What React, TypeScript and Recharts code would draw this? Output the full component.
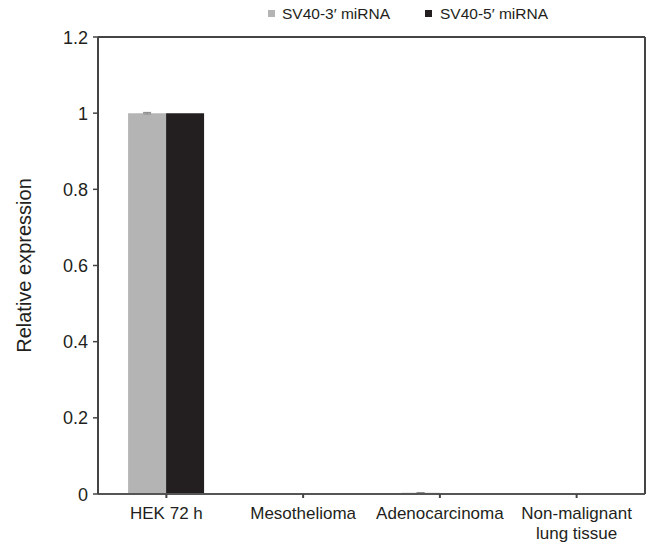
import React from 'react';
import { BarChart, Bar, XAxis, YAxis, CartesianGrid, ErrorBar, ReferenceLine } from 'recharts';

const categories = ['HEK 72 h', 'Mesothelioma', 'Adenocarcinoma', 'Non-malignant\nlung tissue'];
const sv40_3 = [1.0, 0.002, 0.003, 0.002];
const sv40_5 = [1.0, 0.0005, 0.001, 0.0005];
const err3 = [0.002, 0, 0.001, 0];
const yTicks = [0, 0.2, 0.4, 0.6, 0.8, 1, 1.2];
const seriesNames = ['SV40-3\u2032 miRNA', 'SV40-5\u2032 miRNA'];

const data = categories.map((c, i) => ({
  name: c,
  s3: sv40_3[i],
  s5: sv40_5[i],
  e3: err3[i],
}));

const FONT = '"Liberation Sans", Arial, Helvetica, sans-serif';
const GRAY = '#b4b4b5';
const BLACK = '#231f20';

const XTick = (props: any) => {
  const { x, y, payload } = props;
  const lines = String(payload.value).split('\n');
  return (
    <g transform={`translate(${x},${y})`}>
      {lines.map((l: string, i: number) => (
        <text key={i} x={0} y={0} dy={19 + i * 20} textAnchor="middle" fontSize={17} fill="#231f20" fontFamily={FONT}>
          {l}
        </text>
      ))}
    </g>
  );
};

const YTick = (props: any) => {
  const { x, y, payload } = props;
  const v = payload.value;
  const label = String(v);
  return (
    <text x={x - 3} y={y} dy={6.5} textAnchor="end" fontSize={18} fill="#231f20" fontFamily={FONT}>
      {label}
    </text>
  );
};

export default function App() {
  return (
    <div style={{ position: 'absolute', left: 0, top: 0, width: 649, height: 544, background: '#fff' }}>
      <svg width={649} height={30} style={{ position: 'absolute', left: 0, top: 0 }}>
        <rect x={268} y={10} width={7} height={7} fill={GRAY} />
        <text x={282} y={19} fontSize={15.5} fill="#231f20" fontFamily={FONT}>{seriesNames[0]}</text>
        <rect x={425} y={10} width={7} height={7} fill={BLACK} />
        <text x={440} y={19} fontSize={15.5} fill="#231f20" fontFamily={FONT}>{seriesNames[1]}</text>
      </svg>
      <div style={{ position: 'absolute', left: 0, top: 0 }}>
        <BarChart
          width={649}
          height={544}
          data={data}
          margin={{ top: 37, right: 0, bottom: 0, left: 0 }}
          barCategoryGap="22%"
          barGap={0}
        >
          <CartesianGrid vertical={false} stroke="#a8a8a8" strokeWidth={1} />
          <XAxis
            dataKey="name"
            height={50}
            interval={0}
            tick={<XTick />}
            tickLine={{ stroke: '#444', strokeWidth: 2 }}
            tickSize={4}
            axisLine={{ stroke: '#555', strokeWidth: 2 }}
          />
          <YAxis
            yAxisId="l"
            width={98}
            domain={[0, 1.2]}
            ticks={yTicks}
            tick={<YTick />}
            tickLine={{ stroke: '#444', strokeWidth: 1.5 }}
            tickSize={5}
            axisLine={{ stroke: '#444', strokeWidth: 2 }}
            label={{
              value: 'Relative expression',
              angle: -90,
              position: 'insideLeft',
              offset: 0,
              dx: 24,
              style: { fontSize: 20, fill: '#231f20', fontFamily: FONT, textAnchor: 'middle' },
            }}
          />
          <YAxis
            yAxisId="r"
            orientation="right"
            width={4}
            domain={[0, 1.2]}
            tick={false}
            tickLine={false}
            axisLine={{ stroke: '#444', strokeWidth: 2 }}
          />
          <ReferenceLine yAxisId="l" y={1.2} stroke="#444" strokeWidth={2} />
          <Bar yAxisId="l" dataKey="s3" fill={GRAY} isAnimationActive={false}>
            <ErrorBar dataKey="e3" width={4} stroke="#888" strokeWidth={1} direction="y" />
          </Bar>
          <Bar yAxisId="l" dataKey="s5" fill={BLACK} isAnimationActive={false} />
        </BarChart>
      </div>
    </div>
  );
}
